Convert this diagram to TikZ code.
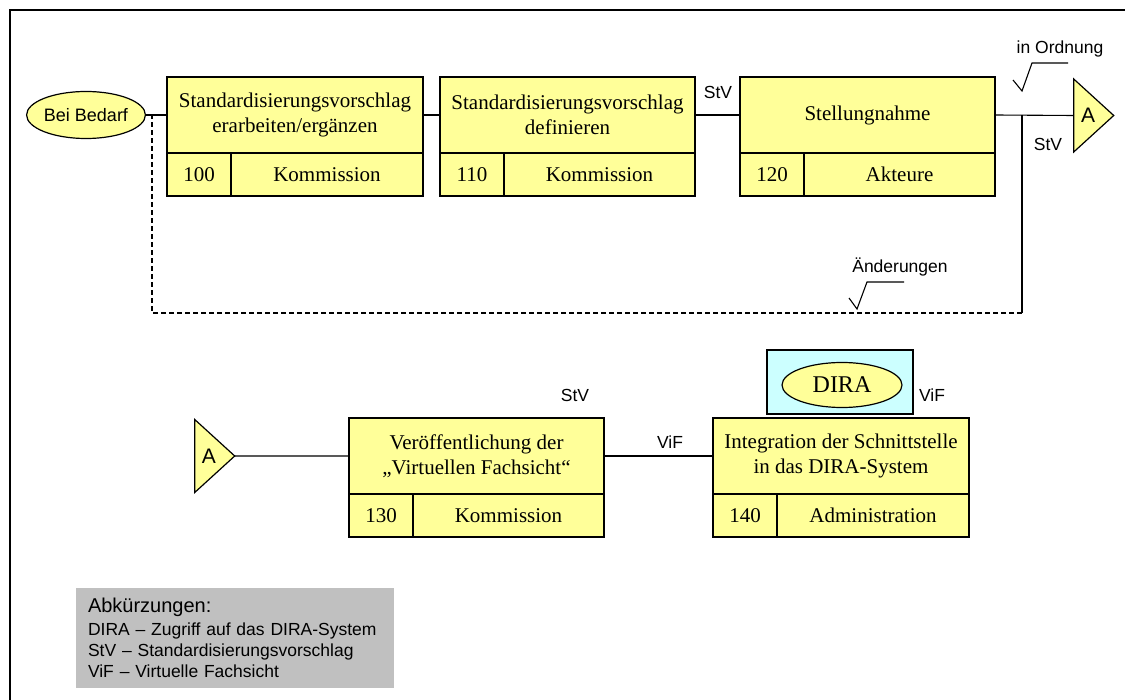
\documentclass[tikz,border=0pt]{standalone}
\usepackage{fontspec}
\setmainfont{Liberation Serif}
\setsansfont{Liberation Sans}
\usetikzlibrary{shapes.geometric}
\definecolor{procyellow}{HTML}{FFFF99}
\definecolor{syscyan}{HTML}{CCFFFF}
\definecolor{legendgray}{HTML}{C0C0C0}

\begin{document}
\begin{tikzpicture}[x=1pt,y=-1pt,
  every node/.style={inner sep=0pt, outer sep=0pt},
  procbox/.style={draw, line width=1.4pt, fill=procyellow, align=center,
    font=\fontsize{21}{25}\selectfont, anchor=north west, minimum height=76pt},
  cell/.style={draw, line width=1.4pt, fill=procyellow,
    font=\fontsize{21}{25}\selectfont, anchor=north west, minimum height=43pt},
  conn/.style={line width=1.1pt},
  loopback/.style={line width=1.1pt, dash pattern=on 5pt off 3pt},
  flowlabel/.style={font=\sffamily\fontsize{17.5}{21}\selectfont, text depth=0pt},
  offpage/.style={isosceles triangle, isosceles triangle stretches,
    shape border rotate=0, minimum width=73pt, minimum height=40pt,
    draw, line width=1.2pt, fill=procyellow,
    font=\sffamily\fontsize{21}{24}\selectfont},
  event/.style={ellipse, draw, line width=1.2pt, fill=procyellow}
]
\useasboundingbox (0,0) rectangle (1125,700);

% page frame
\draw[line width=2pt] (10,700) -- (10,10) -- (1125,10);

% ---- upper process chain ----
\node[event, minimum width=113pt, minimum height=47pt,
  font=\sffamily\fontsize{18}{21}\selectfont] (bedarf) at (86,115) {Bei Bedarf};

\node[procbox, minimum width=256pt] (b100) at (167,77)
  {Standardisierungsvorschlag\\erarbeiten/ergänzen};
\node[cell, minimum width=64pt] (n100) at (b100.south west) {100};
\node[cell, minimum width=192pt] (r100) at (n100.north east) {Kommission};

\node[procbox, minimum width=255pt] (b110) at (440,77)
  {Standardisierungsvorschlag\\definieren};
\node[cell, minimum width=64pt] (n110) at (b110.south west) {110};
\node[cell, minimum width=191pt] (r110) at (n110.north east) {Kommission};

\node[procbox, minimum width=255pt] (b120) at (740,77) {Stellungnahme};
\node[cell, minimum width=64pt] (n120) at (b120.south west) {120};
\node[cell, minimum width=191pt] (r120) at (n120.north east) {Akteure};

\node[offpage] (atop) at (1088,115.5) {A};

\draw[conn] (bedarf.east) -- (b100.west);
\draw[conn] (b100.east) -- (b110.west);
\draw[conn] (b110.east) -- (b120.west);
\draw[conn] (b120.east) -- (atop.west);

% loop back for changes
\coordinate (fbL) at (152,115);
\coordinate (fbR) at (1022,115);
\coordinate (fbLb) at (152,313);
\coordinate (fbRb) at (1022,313);
\draw[conn] (fbR) -- (fbRb);
\draw[loopback] (fbRb) -- (fbLb) -- (fbL);

% labels and decision ticks
\node[flowlabel] (stv1) at (718,92) {StV};
\node[flowlabel] (stv2) at (1048,144) {StV};
\node[flowlabel] (ok) at (1060,47) {in Ordnung};
\draw[conn] (1013,80) -- (1022,91) -- (1032,63) -- (1068,63);
\node[flowlabel] (chg) at (900,265) {Änderungen};
\draw[conn] (849,298) -- (857,309) -- (867,282) -- (904,282);

% ---- lower process chain ----
\node[offpage] (abot) at (209,456) {A};

\node[procbox, minimum width=255pt] (b130) at (349,418)
  {Veröffentlichung der\\„Virtuellen Fachsicht“};
\node[cell, minimum width=64pt] (n130) at (b130.south west) {130};
\node[cell, minimum width=191pt] (r130) at (n130.north east) {Kommission};

\node[procbox, minimum width=256pt] (b140) at (713,418)
  {Integration der Schnittstelle\\in das DIRA-System};
\node[cell, minimum width=64pt] (n140) at (b140.south west) {140};
\node[cell, minimum width=192pt] (r140) at (n140.north east) {Administration};

\node[draw, line width=1.4pt, fill=syscyan, minimum width=146pt,
  minimum height=64pt, anchor=north west] (sys) at (767,350) {};
\node[event, minimum width=120pt, minimum height=45pt,
  font=\fontsize{24}{28}\selectfont] (dira) at (842,385) {DIRA};

\draw[conn] (abot.east) -- (b130.west);
\draw[conn] (b130.east) -- (b140.west);

\node[flowlabel] (stv3) at (575,395) {StV};
\node[flowlabel] (vif1) at (670,442) {ViF};
\node[flowlabel] (vif2) at (932,395) {ViF};

% ---- legend ----
\node[fill=legendgray, anchor=north west, minimum height=100pt,
  text width=294pt, inner xsep=12pt, align=left,
  font=\sffamily\fontsize{17.5}{21}\selectfont] (legend) at (76,588)
  {{\fontsize{20}{22}\selectfont Abkürzungen:}\\[2pt]
   DIRA – Zugriff auf das DIRA-System\\
   StV – Standardisierungsvorschlag\\
   ViF – Virtuelle Fachsicht};
\end{tikzpicture}
\end{document}
